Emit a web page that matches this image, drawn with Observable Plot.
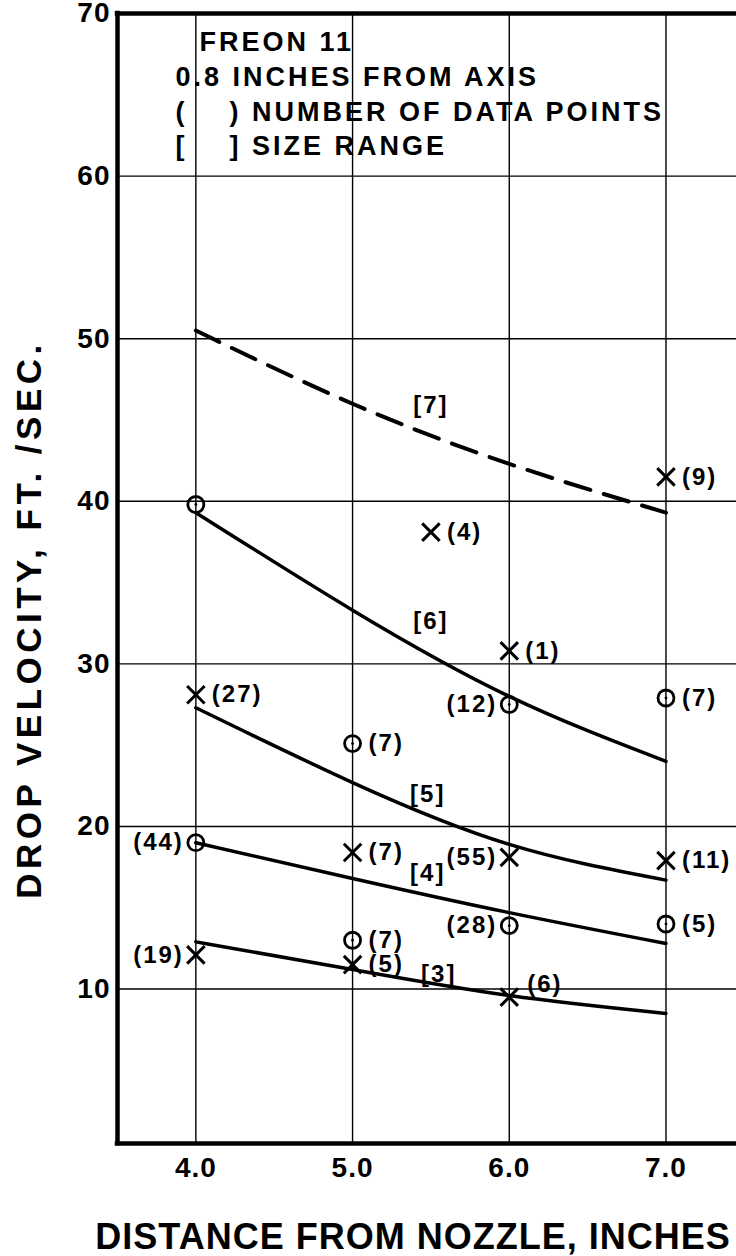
<!DOCTYPE html>
<html><head><meta charset="utf-8">
<script src="https://cdn.jsdelivr.net/npm/d3@7"></script>
<script src="https://cdn.jsdelivr.net/npm/@observablehq/plot@0.6"></script>
<style>body{margin:0;background:#fff} #chart{width:736px;height:1256px}</style>
</head><body><div id="chart"></div>
<script>
// ---- data ----
const pointX = [4.0, 4.0, 4.0, 4.0, 5.0, 5.0, 5.0, 5.0, 5.5, 6.0, 6.0, 6.0, 6.0, 6.0, 7.0, 7.0, 7.0, 7.0];
const pointY = [39.8, 28.1, 19.0, 12.1, 25.1, 18.4, 13.0, 11.5, 38.1, 30.8, 27.5, 18.1, 13.9, 9.5, 41.5, 27.9, 17.9, 14.0];
const pointKind = ["circle","times","circle","times","circle","times","circle","times","times","times","circle","times","circle","times","times","circle","times","circle"];
const pointCount = ["", "(27)", "(44)", "(19)", "(7)", "(7)", "(7)", "(5)", "(4)", "(1)", "(12)", "(55)", "(28)", "(6)", "(9)", "(7)", "(11)", "(5)"];

const curveX = [4.0, 5.0, 6.0, 7.0];
const range7 = [50.5, 46.0, 42.3, 39.3];
const range6 = [39.3, 33.3, 28.0, 24.0];
const range5 = [27.3, 22.7, 18.9, 16.7];
const range4 = [19.0, 16.8, 14.7, 12.8];
const range3 = [12.9, 11.2, 9.6, 8.5];
const rangeLabels = ["[7]", "[6]", "[5]", "[4]", "[3]"];
const rangeLabelX = [5.50, 5.50, 5.48, 5.48, 5.55];
const rangeLabelY = [45.9, 32.6, 22.0, 17.1, 10.9];

const xTicks = [4, 5, 6, 7];
const xTickLabels = ["4.0", "5.0", "6.0", "7.0"];
const yTicks = [10, 20, 30, 40, 50, 60, 70];
const yGrid = [10, 20, 30, 40, 50, 60];
const xDomain = [3.5, 7.45];
const yDomain = [0.5, 70];

const legendLines = ["FREON 11", "0.8 INCHES FROM AXIS", "(\u00a0\u00a0\u00a0\u00a0) NUMBER OF DATA POINTS", "[\u00a0\u00a0\u00a0\u00a0] SIZE RANGE"];
const xTitle = "DISTANCE FROM NOZZLE, INCHES";
const yTitle = "DROP VELOCITY, FT. /SEC.";

// ---- build tables ----
const pts = pointX.map((x, i) => ({x, y: pointY[i], kind: pointKind[i], n: pointCount[i], i}));
const leftLabelled = new Set([2, 3, 10, 11, 12]);
const raisedLabel = new Set([13]);
const rightLabels = pts.filter(d => d.n && !leftLabelled.has(d.i) && !raisedLabel.has(d.i));
const raisedLabels = pts.filter(d => d.n && raisedLabel.has(d.i));
const leftLabels = pts.filter(d => d.n && leftLabelled.has(d.i));
const solidSeries = [["[6]", range6], ["[5]", range5], ["[4]", range4], ["[3]", range3]];
const solidRows = solidSeries.flatMap(([s, ys]) => curveX.map((x, i) => ({x, y: ys[i], s})));
const dashedRows = curveX.map((x, i) => ({x, y: range7[i]}));
const rangeRows = rangeLabels.map((t, i) => ({t, x: rangeLabelX[i], y: rangeLabelY[i]}));

const legendDx = [82, 58, 58, 58];
const legendDy = [37, 72, 107, 141];

const chart = Plot.plot({
  width: 736,
  height: 1256,
  marginLeft: 117,
  marginRight: 0,
  marginTop: 13,
  marginBottom: 113,
  style: {fontFamily: "'Liberation Sans', Arial, sans-serif", fontWeight: "bold", color: "black", background: "white", letterSpacing: "3px"},
  x: {domain: xDomain},
  y: {domain: yDomain},
  marks: [
    Plot.gridX({ticks: xTicks, stroke: "black", strokeOpacity: 1, strokeWidth: 1.4}),
    Plot.gridY({ticks: yGrid, stroke: "black", strokeOpacity: 1, strokeWidth: 1.4}),
    Plot.ruleX([xDomain[0]], {stroke: "black", strokeWidth: 4.5, strokeLinecap: "square"}),
    Plot.ruleY(yDomain, {stroke: "black", strokeWidth: 4.5, strokeLinecap: "square"}),
    Plot.axisX({ticks: xTicks, tickSize: 0, tickPadding: 14, fontSize: 28, tickFormat: d => xTickLabels[xTicks.indexOf(d)], label: null}),
    Plot.axisY({ticks: yTicks, tickSize: 0, tickPadding: 7, fontSize: 28, label: null}),
    Plot.line(solidRows, {x: "x", y: "y", z: "s", curve: "natural", stroke: "black", strokeWidth: 3.5}),
    Plot.line(dashedRows, {x: "x", y: "y", curve: "natural", stroke: "black", strokeWidth: 4, strokeDasharray: "26,14"}),
    Plot.dot(pts.filter(d => d.kind === "circle"), {x: "x", y: "y", symbol: "circle", r: 8, stroke: "black", strokeWidth: 2.8, fill: "none"}),
    Plot.dot(pts.filter(d => d.kind === "circle"), {x: "x", y: "y", r: 1.4, fill: "black"}),
    Plot.dot(pts.filter(d => d.kind === "times"), {x: "x", y: "y", symbol: "times", r: 8, stroke: "black", strokeWidth: 3}),
    Plot.text(rightLabels, {x: "x", y: "y", text: "n", textAnchor: "start", dx: 16, fontSize: 24}),
    Plot.text(raisedLabels, {x: "x", y: "y", text: "n", textAnchor: "start", dx: 18, dy: -13, fontSize: 24}),
    Plot.text(leftLabels, {x: "x", y: "y", text: "n", textAnchor: "end", dx: -12, fontSize: 24}),
    Plot.text(rangeRows, {x: "x", y: "y", text: "t", fontSize: 24}),
    ...legendLines.map((t, i) => Plot.text([t], {frameAnchor: "top-left", textAnchor: "start", lineAnchor: "bottom", dx: legendDx[i], dy: legendDy[i], fontSize: 27})),
    Plot.text([xTitle], {frameAnchor: "bottom", lineAnchor: "bottom", dy: 105, dx: -14, fontSize: 36}),
    Plot.text([yTitle], {frameAnchor: "left", textAnchor: "middle", rotate: -90, dx: -88, dy: 41, fontSize: 35})
  ]
});

d3.select(chart).selectAll("text").each(function () {
  const t = this.textContent;
  if (t === xTitle) this.setAttribute("letter-spacing", "1px");
  else if (t === yTitle) this.setAttribute("letter-spacing", "4.5px");
  else if (xTickLabels.includes(t) || yTicks.map(String).includes(t)) this.setAttribute("letter-spacing", "1px");
  else if (/^[\(\[]\d+[\)\]]$/.test(t)) this.setAttribute("letter-spacing", "2px");
});

document.getElementById("chart").appendChild(chart);
</script>
</body></html>
